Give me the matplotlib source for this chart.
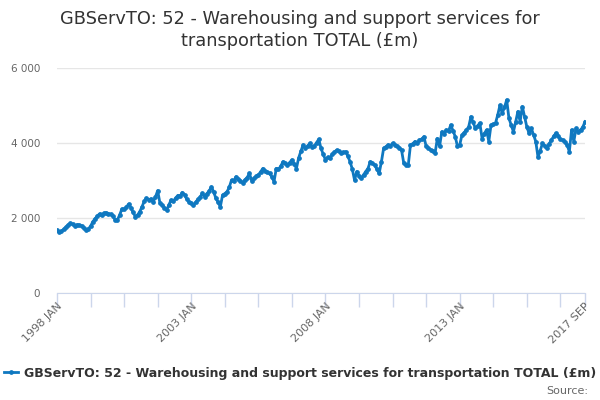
import numpy as np
import matplotlib
matplotlib.use("Agg")
import matplotlib.pyplot as plt

# monthly values, 1998 JAN .. 2017 SEP (£m)
v1998 = [1680, 1640, 1650, 1700, 1760, 1820, 1860, 1830, 1800, 1820, 1810, 1790]
v1999 = [1740, 1680, 1710, 1780, 1900, 1980, 2050, 2110, 2090, 2130, 2140, 2120]
v2000 = [2100, 2050, 1950, 1950, 2080, 2240, 2230, 2290, 2370, 2280, 2150, 2040]
v2001 = [2080, 2170, 2300, 2450, 2530, 2490, 2510, 2430, 2560, 2730, 2400, 2350]
v2002 = [2280, 2210, 2350, 2480, 2450, 2530, 2600, 2580, 2680, 2620, 2500, 2430]
v2003 = [2400, 2350, 2420, 2500, 2560, 2660, 2570, 2650, 2720, 2830, 2700, 2530]
v2004 = [2420, 2300, 2610, 2650, 2700, 2820, 3010, 2980, 3100, 3050, 3000, 2940]
v2005 = [3020, 3080, 3190, 3000, 3060, 3110, 3150, 3230, 3320, 3260, 3220, 3190]
v2006 = [3100, 2970, 3320, 3300, 3380, 3500, 3460, 3410, 3480, 3550, 3450, 3320]
v2007 = [3600, 3780, 3950, 3860, 3920, 3990, 3900, 3920, 4010, 4100, 3860, 3700]
v2008 = [3550, 3620, 3590, 3700, 3760, 3810, 3780, 3730, 3750, 3770, 3650, 3500]
v2009 = [3300, 3010, 3240, 3120, 3060, 3150, 3240, 3320, 3500, 3460, 3410, 3300]
v2010 = [3190, 3500, 3860, 3900, 3950, 3930, 3990, 3940, 3910, 3880, 3810, 3460]
v2011 = [3420, 3410, 3950, 3980, 4040, 3990, 4080, 4100, 4170, 3910, 3870, 3810]
v2012 = [3780, 3730, 4120, 3910, 4300, 4250, 4350, 4320, 4480, 4330, 4170, 3910]
v2013 = [3950, 4210, 4280, 4350, 4430, 4700, 4550, 4390, 4460, 4530, 4120, 4250]
v2014 = [4350, 4040, 4480, 4500, 4530, 4750, 5010, 4790, 4950, 5150, 4660, 4480]
v2015 = [4300, 4560, 4840, 4570, 4970, 4700, 4430, 4260, 4390, 4220, 4040, 3620]
v2016 = [3800, 3990, 3920, 3860, 3980, 4080, 4180, 4260, 4200, 4100, 4080, 4040]
v2017 = [3950, 3770, 4350, 4040, 4390, 4300, 4350, 4420, 4570]

years = list(range(1998, 2018))
months = ["JAN", "FEB", "MAR", "APR", "MAY", "JUN",
          "JUL", "AUG", "SEP", "OCT", "NOV", "DEC"]
series_name = "GBServTO: 52 - Warehousing and support services for transportation TOTAL (£m)"
title = "GBServTO: 52 - Warehousing and support services for\ntransportation TOTAL (£m)"

vals = (v1998 + v1999 + v2000 + v2001 + v2002 + v2003 + v2004 + v2005 + v2006
        + v2007 + v2008 + v2009 + v2010 + v2011 + v2012 + v2013 + v2014
        + v2015 + v2016 + v2017)
cats = ["%d %s" % (y, m) for y in years for m in months][:len(vals)]
x = np.arange(len(vals))

plt.rcParams['font.family'] = ['DejaVu Sans']

fig = plt.figure(figsize=(6, 4), dpi=100)
ax = fig.add_axes([0.095, 0.2675, 0.88, 0.5625])

col = '#0f78c0'
ax.plot(x, vals, color=col, lw=2.0, marker='o', ms=2.4, mec=col, mfc=col,
        label=series_name, zorder=3)

ax.set_xlim(0, len(vals) - 1)
ax.set_ylim(0, 6000)
ax.set_yticks([0, 2000, 4000, 6000])
ax.set_yticklabels(["0", "2 000", "4 000", "6 000"])
ax.grid(axis='y', color='#e6e6e6', lw=1)
ax.set_axisbelow(True)

tks = list(range(0, len(vals), 15)) + [len(vals) - 1]
ax.set_xticks(tks)
lbl = []
for t in tks:
    if t % 60 == 0 or t == len(vals) - 1:
        lbl.append(cats[t])
    else:
        lbl.append("")
ax.set_xticklabels(lbl, rotation=45, ha='right', va='top', rotation_mode='anchor')

for s in ['top', 'right', 'left']:
    ax.spines[s].set_visible(False)
ax.spines['bottom'].set_color('#ccd6eb')
ax.tick_params(axis='x', colors='#ccd6eb', length=10, width=1, labelcolor='#666666',
               labelsize=8, pad=-4)
ax.tick_params(axis='y', length=0, labelcolor='#666666', labelsize=7.5, pad=12)

fig.text(0.5, 0.975, title, ha='center', va='top', fontsize=12.8, color='#333333',
         linespacing=1.25)

leg = fig.legend(loc='center', bbox_to_anchor=(0.5, 0.067), frameon=False,
                 handlelength=1.1, handletextpad=0.5,
                 prop={'weight': 'bold', 'size': 9})
for t in leg.get_texts():
    t.set_color('#333333')
fig.text(0.98, 0.022, "Source:", ha='right', va='center', fontsize=8, color='#666666')

fig.savefig("out.png", dpi=100)
